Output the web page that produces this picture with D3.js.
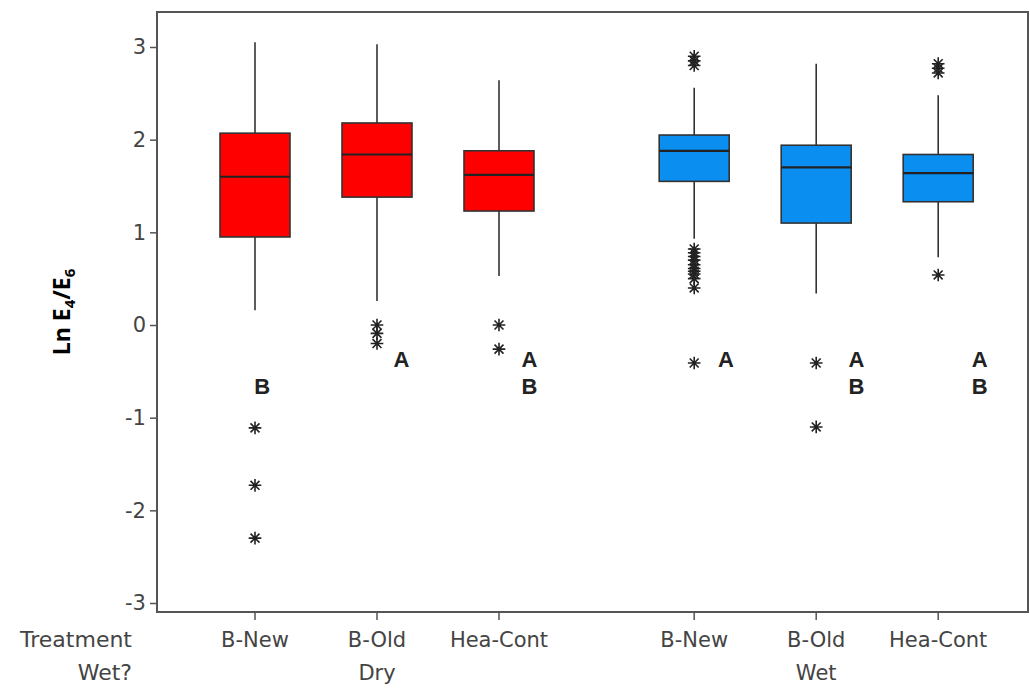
<!DOCTYPE html>
<html><head><meta charset="utf-8">
<script src="https://cdn.jsdelivr.net/npm/d3@7/dist/d3.min.js"></script>
<style>body{margin:0;background:#fff}svg{display:block}</style>
</head><body>
<script>
const treatments = ["B-New","B-Old","Hea-Cont","B-New","B-Old","Hea-Cont"];
const wetGroups = ["Dry","Wet"];
const groupOf = [0,0,0,1,1,1];
const slotPos = [0,1,2,3.6,4.6,5.6];
const whiskerLow  = [0.16,0.26,0.53,0.93,0.34,0.73];
const q1          = [0.95,1.38,1.23,1.55,1.10,1.33];
const median      = [1.60,1.84,1.62,1.88,1.70,1.64];
const q3          = [2.07,2.18,1.88,2.05,1.94,1.84];
const whiskerHigh = [3.05,3.03,2.64,2.56,2.82,2.48];
const outliers = [
  [-1.11,-1.73,-2.30],
  [0.0,-0.09,-0.20],
  [0.0,-0.26],
  [2.90,2.85,2.80,0.82,0.78,0.74,0.70,0.65,0.61,0.58,0.55,0.50,0.40,-0.41],
  [-0.41,-1.10],
  [2.82,2.77,2.72,0.54]
];
const letters = [["B"],["A"],["A","B"],["A"],["A","B"],["A","B"]];
const letterTop = [-0.74,-0.45,-0.45,-0.45,-0.45,-0.45];
const letterDx = [0.06,0.2,0.25,0.26,0.33,0.34];
const yTicks = [-3,-2,-1,0,1,2,3];
const fillColors = ["#ff0000","#0a8ef0"];

const W=1030,H=688;
const svg=d3.select("body").append("svg").attr("width",W).attr("height",H);
const frame={l:157,t:12,r:1028,b:612};
const y=d3.scaleLinear().domain([-3,3]).range([603,47]);
const x=d3.scaleLinear().domain([0,1]).range([255,377]);
const boxW=70;
const labelFont="'DejaVu Sans',Verdana,sans-serif";
const fs=21;

// frame
svg.append("rect").attr("x",frame.l).attr("y",frame.t).attr("width",frame.r-frame.l).attr("height",frame.b-frame.t)
  .attr("fill","none").attr("stroke","#555").attr("stroke-width",2);

// y axis
const yAxis=d3.axisLeft(y).tickValues(yTicks).tickSize(7).tickPadding(4).tickFormat(d=>String(d));
const ga=svg.append("g").attr("transform",`translate(${frame.l},0)`).call(yAxis);
ga.select(".domain").remove();
ga.selectAll("line").attr("stroke","#555").attr("stroke-width",1.5);
ga.selectAll("text").attr("font-family",labelFont).attr("font-size",fs).attr("fill","#444");

// x ticks
const xa=svg.append("g");
slotPos.forEach((p,i)=>{
  xa.append("line").attr("x1",x(p)).attr("x2",x(p)).attr("y1",frame.b).attr("y2",frame.b+8).attr("stroke","#555").attr("stroke-width",1.5);
  xa.append("text").attr("x",x(p)).attr("y",647).attr("text-anchor","middle")
    .attr("font-family",labelFont).attr("font-size",fs).attr("fill","#444").text(treatments[i]);
});
wetGroups.forEach((g,gi)=>{
  const idx=groupOf.map((v,i)=>v===gi?i:-1).filter(v=>v>=0);
  const cx=x(slotPos[idx[1]]);
  xa.append("text").attr("x",cx).attr("y",680).attr("text-anchor","middle")
    .attr("font-family",labelFont).attr("font-size",fs).attr("fill","#444").text(g);
});
svg.append("text").attr("x",132).attr("y",647).attr("text-anchor","end")
  .attr("font-family",labelFont).attr("font-size",fs+1).attr("fill","#444").text("Treatment");
svg.append("text").attr("x",132).attr("y",680).attr("text-anchor","end")
  .attr("font-family",labelFont).attr("font-size",fs+1).attr("fill","#444").text("Wet?");

// y title
const yt=svg.append("text").attr("transform","translate(70,312) rotate(-90)").attr("text-anchor","middle")
  .attr("font-family","'Open Sans','Liberation Sans',sans-serif").attr("font-weight","bold").attr("font-size",23).attr("fill","#000");
yt.append("tspan").text("Ln E");
yt.append("tspan").attr("font-size",15).attr("dy",5).text("4");
yt.append("tspan").attr("dy",-5).text("/E");
yt.append("tspan").attr("font-size",15).attr("dy",5).text("6");

// asterisk symbol
const star={draw(ctx,size){const r=Math.sqrt(size)/2;
  for(let k=0;k<4;k++){const a=k*Math.PI/4;ctx.moveTo(-r*Math.cos(a),-r*Math.sin(a));ctx.lineTo(r*Math.cos(a),r*Math.sin(a));}}};
const starPath=d3.symbol().type(star).size(160)();

// boxes
const gb=svg.append("g");
slotPos.forEach((p,i)=>{
  const cx=x(p);
  gb.append("line").attr("x1",cx).attr("x2",cx).attr("y1",y(whiskerHigh[i])).attr("y2",y(q3[i])).attr("stroke","#333").attr("stroke-width",1.6);
  gb.append("line").attr("x1",cx).attr("x2",cx).attr("y1",y(q1[i])).attr("y2",y(whiskerLow[i])).attr("stroke","#333").attr("stroke-width",1.6);
  gb.append("rect").attr("x",cx-boxW/2).attr("y",y(q3[i])).attr("width",boxW).attr("height",y(q1[i])-y(q3[i]))
    .attr("fill",fillColors[groupOf[i]]).attr("stroke","#333").attr("stroke-width",1.6);
  gb.append("line").attr("x1",cx-boxW/2).attr("x2",cx+boxW/2).attr("y1",y(median[i])).attr("y2",y(median[i])).attr("stroke","#222").attr("stroke-width",2.2);
  outliers[i].forEach(v=>{
    gb.append("path").attr("d",starPath).attr("transform",`translate(${cx},${y(v)})`).attr("stroke","#222").attr("stroke-width",1.6).attr("fill","none");
  });
  letters[i].forEach((L,k)=>{
    gb.append("text").attr("x",x(p+letterDx[i])).attr("y",y(letterTop[i])+k*27).attr("text-anchor","middle")
      .attr("font-family","'Liberation Sans',Arial,sans-serif").attr("font-weight","bold").attr("font-size",22).attr("fill","#222").text(L);
  });
});
</script>
</body></html>
